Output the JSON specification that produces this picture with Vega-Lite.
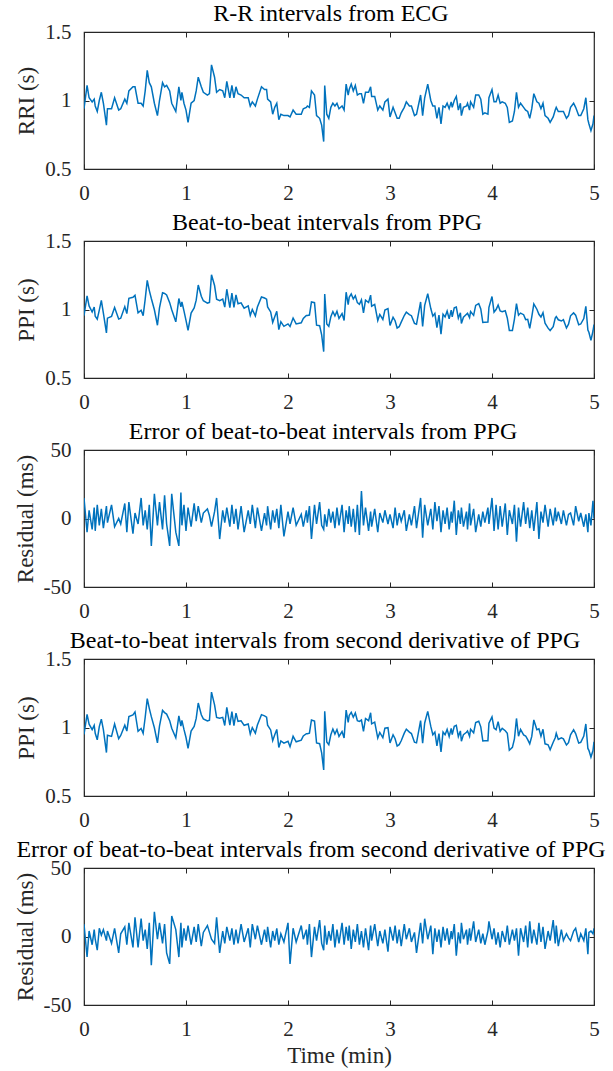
{
"$schema": "https://vega.github.io/schema/vega-lite/v6.json",
"padding": {"left": 13, "top": 1, "right": 5, "bottom": 5},
"data": {"name": "d"},
"datasets": {"d": [
{"t":0.00,"rri":0.94,"ppi":0.955,"err":15,"ppi2":0.949,"err2":9},
{"t":0.03,"rri":1.11,"ppi":1.100,"err":-10,"ppi2":1.095,"err2":-15},
{"t":0.05,"rri":1.02,"ppi":1.026,"err":6,"ppi2":1.024,"err2":4},
{"t":0.08,"rri":0.99,"ppi":0.982,"err":-8,"ppi2":0.984,"err2":-6},
{"t":0.10,"rri":1.01,"ppi":1.018,"err":8,"ppi2":1.015,"err2":5},
{"t":0.11,"rri":0.96,"ppi":0.951,"err":-9,"ppi2":0.958,"err2":-2},
{"t":0.13,"rri":0.92,"ppi":0.930,"err":10,"ppi2":0.910,"err2":-10},
{"t":0.15,"rri":1.00,"ppi":0.995,"err":-5,"ppi2":1.006,"err2":6},
{"t":0.17,"rri":1.06,"ppi":1.067,"err":7,"ppi2":1.061,"err2":1},
{"t":0.19,"rri":0.98,"ppi":0.973,"err":-7,"ppi2":0.985,"err2":5},
{"t":0.22,"rri":0.82,"ppi":0.829,"err":9,"ppi2":0.817,"err2":-3},
{"t":0.23,"rri":0.94,"ppi":0.937,"err":-3,"ppi2":0.944,"err2":4},
{"t":0.27,"rri":0.94,"ppi":0.950,"err":10,"ppi2":0.935,"err2":-5},
{"t":0.30,"rri":1.02,"ppi":1.014,"err":-6,"ppi2":1.026,"err2":6},
{"t":0.34,"rri":0.93,"ppi":0.930,"err":0,"ppi2":0.918,"err2":-12},
{"t":0.36,"rri":0.94,"ppi":0.936,"err":-4,"ppi2":0.942,"err2":2},
{"t":0.40,"rri":1.01,"ppi":1.021,"err":11,"ppi2":1.017,"err2":7},
{"t":0.42,"rri":0.98,"ppi":0.970,"err":-10,"ppi2":0.974,"err2":-6},
{"t":0.44,"rri":1.07,"ppi":1.082,"err":12,"ppi2":1.080,"err2":10},
{"t":0.48,"rri":1.10,"ppi":1.089,"err":-11,"ppi2":1.092,"err2":-8},
{"t":0.50,"rri":1.10,"ppi":1.104,"err":4,"ppi2":1.114,"err2":14},
{"t":0.53,"rri":0.98,"ppi":0.976,"err":-4,"ppi2":0.972,"err2":-8},
{"t":0.56,"rri":0.98,"ppi":0.995,"err":15,"ppi2":0.993,"err2":13},
{"t":0.58,"rri":0.96,"ppi":0.955,"err":-5,"ppi2":0.957,"err2":-3},
{"t":0.60,"rri":1.07,"ppi":1.076,"err":6,"ppi2":1.075,"err2":5},
{"t":0.62,"rri":1.22,"ppi":1.212,"err":-8,"ppi2":1.211,"err2":-9},
{"t":0.64,"rri":1.13,"ppi":1.140,"err":10,"ppi2":1.140,"err2":10},
{"t":0.66,"rri":1.10,"ppi":1.080,"err":-20,"ppi2":1.079,"err2":-21},
{"t":0.69,"rri":0.98,"ppi":0.998,"err":18,"ppi2":0.998,"err2":18},
{"t":0.72,"rri":0.89,"ppi":0.885,"err":-5,"ppi2":0.888,"err2":-2},
{"t":0.74,"rri":1.00,"ppi":1.012,"err":12,"ppi2":1.010,"err2":10},
{"t":0.77,"rri":1.13,"ppi":1.122,"err":-8,"ppi2":1.125,"err2":-5},
{"t":0.79,"rri":1.10,"ppi":1.117,"err":17,"ppi2":1.109,"err2":9},
{"t":0.81,"rri":1.11,"ppi":1.106,"err":-4,"ppi2":1.098,"err2":-12},
{"t":0.84,"rri":1.07,"ppi":1.050,"err":-20,"ppi2":1.050,"err2":-20},
{"t":0.86,"rri":0.98,"ppi":0.998,"err":18,"ppi2":0.995,"err2":15},
{"t":0.90,"rri":0.92,"ppi":0.910,"err":-10,"ppi2":0.925,"err2":5},
{"t":0.93,"rri":1.10,"ppi":1.080,"err":-20,"ppi2":1.085,"err2":-15},
{"t":0.95,"rri":1.00,"ppi":1.019,"err":19,"ppi2":1.010,"err2":10},
{"t":0.96,"rri":1.06,"ppi":1.055,"err":-5,"ppi2":1.052,"err2":-8},
{"t":0.98,"rri":0.98,"ppi":0.990,"err":10,"ppi2":0.986,"err2":6},
{"t":1.00,"rri":0.93,"ppi":0.921,"err":-9,"ppi2":0.927,"err2":-3},
{"t":1.02,"rri":0.84,"ppi":0.848,"err":8,"ppi2":0.848,"err2":8},
{"t":1.05,"rri":0.98,"ppi":0.974,"err":-6,"ppi2":0.974,"err2":-6},
{"t":1.08,"rri":1.00,"ppi":1.011,"err":11,"ppi2":1.007,"err2":7},
{"t":1.10,"rri":1.07,"ppi":1.068,"err":-2,"ppi2":1.066,"err2":-4},
{"t":1.12,"rri":1.17,"ppi":1.179,"err":9,"ppi2":1.179,"err2":9},
{"t":1.15,"rri":1.10,"ppi":1.097,"err":-3,"ppi2":1.093,"err2":-7},
{"t":1.17,"rri":1.06,"ppi":1.064,"err":4,"ppi2":1.063,"err2":3},
{"t":1.21,"rri":1.04,"ppi":1.047,"err":7,"ppi2":1.048,"err2":8},
{"t":1.23,"rri":1.05,"ppi":1.052,"err":2,"ppi2":1.053,"err2":3},
{"t":1.25,"rri":1.26,"ppi":1.254,"err":-6,"ppi2":1.258,"err2":-2},
{"t":1.28,"rri":1.17,"ppi":1.175,"err":5,"ppi2":1.165,"err2":-5},
{"t":1.30,"rri":1.06,"ppi":1.075,"err":15,"ppi2":1.074,"err2":14},
{"t":1.33,"rri":1.08,"ppi":1.065,"err":-15,"ppi2":1.068,"err2":-12},
{"t":1.36,"rri":1.07,"ppi":1.076,"err":6,"ppi2":1.074,"err2":4},
{"t":1.38,"rri":1.02,"ppi":1.017,"err":-3,"ppi2":1.015,"err2":-5},
{"t":1.40,"rri":1.14,"ppi":1.148,"err":8,"ppi2":1.147,"err2":7},
{"t":1.43,"rri":1.02,"ppi":1.014,"err":-6,"ppi2":1.017,"err2":-3},
{"t":1.45,"rri":1.11,"ppi":1.120,"err":10,"ppi2":1.116,"err2":6},
{"t":1.47,"rri":1.02,"ppi":1.016,"err":-4,"ppi2":1.014,"err2":-6},
{"t":1.49,"rri":1.10,"ppi":1.107,"err":7,"ppi2":1.105,"err2":5},
{"t":1.51,"rri":1.05,"ppi":1.042,"err":-8,"ppi2":1.045,"err2":-5},
{"t":1.54,"rri":1.04,"ppi":1.049,"err":9,"ppi2":1.049,"err2":9},
{"t":1.57,"rri":1.02,"ppi":1.010,"err":-10,"ppi2":1.016,"err2":-4},
{"t":1.61,"rri":1.02,"ppi":1.026,"err":6,"ppi2":1.026,"err2":6},
{"t":1.63,"rri":0.96,"ppi":0.956,"err":-4,"ppi2":0.952,"err2":-8},
{"t":1.65,"rri":0.99,"ppi":1.000,"err":10,"ppi2":0.999,"err2":9},
{"t":1.68,"rri":0.96,"ppi":0.953,"err":-7,"ppi2":0.958,"err2":-2},
{"t":1.70,"rri":1.01,"ppi":1.018,"err":8,"ppi2":1.018,"err2":8},
{"t":1.74,"rri":1.10,"ppi":1.091,"err":-9,"ppi2":1.094,"err2":-6},
{"t":1.77,"rri":1.08,"ppi":1.084,"err":4,"ppi2":1.085,"err2":5},
{"t":1.79,"rri":1.08,"ppi":1.075,"err":-5,"ppi2":1.076,"err2":-4},
{"t":1.80,"rri":1.01,"ppi":1.019,"err":9,"ppi2":1.017,"err2":7},
{"t":1.83,"rri":0.99,"ppi":0.982,"err":-8,"ppi2":0.982,"err2":-8},
{"t":1.85,"rri":0.90,"ppi":0.906,"err":6,"ppi2":0.904,"err2":4},
{"t":1.87,"rri":0.95,"ppi":0.947,"err":-3,"ppi2":0.947,"err2":-3},
{"t":1.89,"rri":0.98,"ppi":0.987,"err":7,"ppi2":0.986,"err2":6},
{"t":1.91,"rri":0.86,"ppi":0.853,"err":-7,"ppi2":0.854,"err2":-6},
{"t":1.93,"rri":0.90,"ppi":0.910,"err":10,"ppi2":0.902,"err2":2},
{"t":1.96,"rri":0.89,"ppi":0.877,"err":-13,"ppi2":0.886,"err2":-4},
{"t":2.00,"rri":0.89,"ppi":0.895,"err":5,"ppi2":0.900,"err2":10},
{"t":2.02,"rri":0.88,"ppi":0.876,"err":-4,"ppi2":0.860,"err2":-20},
{"t":2.05,"rri":0.93,"ppi":0.938,"err":8,"ppi2":0.936,"err2":6},
{"t":2.08,"rri":0.90,"ppi":0.895,"err":-5,"ppi2":0.896,"err2":-4},
{"t":2.13,"rri":0.90,"ppi":0.903,"err":3,"ppi2":0.908,"err2":8},
{"t":2.15,"rri":0.94,"ppi":0.934,"err":-6,"ppi2":0.938,"err2":-2},
{"t":2.18,"rri":0.95,"ppi":0.956,"err":6,"ppi2":0.955,"err2":5},
{"t":2.19,"rri":0.96,"ppi":0.957,"err":-3,"ppi2":0.954,"err2":-6},
{"t":2.21,"rri":0.95,"ppi":0.959,"err":9,"ppi2":0.959,"err2":9},
{"t":2.23,"rri":1.07,"ppi":1.055,"err":-15,"ppi2":1.055,"err2":-15},
{"t":2.26,"rri":1.04,"ppi":1.050,"err":10,"ppi2":1.047,"err2":7},
{"t":2.28,"rri":0.89,"ppi":0.886,"err":-4,"ppi2":0.887,"err2":-3},
{"t":2.31,"rri":0.87,"ppi":0.882,"err":12,"ppi2":0.882,"err2":12},
{"t":2.33,"rri":0.82,"ppi":0.815,"err":-5,"ppi2":0.815,"err2":-5},
{"t":2.35,"rri":0.70,"ppi":0.692,"err":-8,"ppi2":0.690,"err2":-10},
{"t":2.36,"rri":1.11,"ppi":1.113,"err":3,"ppi2":1.118,"err2":8},
{"t":2.38,"rri":0.90,"ppi":0.894,"err":-6,"ppi2":0.894,"err2":-6},
{"t":2.40,"rri":0.87,"ppi":0.877,"err":7,"ppi2":0.874,"err2":4},
{"t":2.42,"rri":0.95,"ppi":0.947,"err":-3,"ppi2":0.947,"err2":-3},
{"t":2.44,"rri":0.98,"ppi":0.985,"err":5,"ppi2":0.989,"err2":9},
{"t":2.46,"rri":0.96,"ppi":0.953,"err":-7,"ppi2":0.952,"err2":-8},
{"t":2.48,"rri":0.98,"ppi":0.988,"err":8,"ppi2":0.985,"err2":5},
{"t":2.50,"rri":0.94,"ppi":0.935,"err":-5,"ppi2":0.935,"err2":-5},
{"t":2.53,"rri":0.96,"ppi":0.970,"err":10,"ppi2":0.970,"err2":10},
{"t":2.55,"rri":0.93,"ppi":0.920,"err":-10,"ppi2":0.924,"err2":-6},
{"t":2.57,"rri":1.12,"ppi":1.126,"err":6,"ppi2":1.127,"err2":7},
{"t":2.59,"rri":1.04,"ppi":1.036,"err":-4,"ppi2":1.037,"err2":-3},
{"t":2.60,"rri":1.08,"ppi":1.089,"err":9,"ppi2":1.088,"err2":8},
{"t":2.62,"rri":1.12,"ppi":1.114,"err":-6,"ppi2":1.111,"err2":-9},
{"t":2.64,"rri":1.07,"ppi":1.077,"err":7,"ppi2":1.075,"err2":5},
{"t":2.66,"rri":1.11,"ppi":1.100,"err":-10,"ppi2":1.106,"err2":-4},
{"t":2.68,"rri":1.04,"ppi":1.050,"err":10,"ppi2":1.049,"err2":9},
{"t":2.70,"rri":1.05,"ppi":1.038,"err":-12,"ppi2":1.044,"err2":-6},
{"t":2.72,"rri":1.05,"ppi":1.070,"err":20,"ppi2":1.054,"err2":4},
{"t":2.74,"rri":0.98,"ppi":0.975,"err":-5,"ppi2":0.972,"err2":-8},
{"t":2.76,"rri":1.06,"ppi":1.068,"err":8,"ppi2":1.066,"err2":6},
{"t":2.79,"rri":1.06,"ppi":1.051,"err":-9,"ppi2":1.050,"err2":-10},
{"t":2.81,"rri":1.10,"ppi":1.105,"err":5,"ppi2":1.108,"err2":8},
{"t":2.82,"rri":1.03,"ppi":1.024,"err":-6,"ppi2":1.027,"err2":-3},
{"t":2.85,"rri":1.03,"ppi":1.037,"err":7,"ppi2":1.039,"err2":9},
{"t":2.88,"rri":0.93,"ppi":0.920,"err":-10,"ppi2":0.923,"err2":-7},
{"t":2.90,"rri":0.96,"ppi":0.964,"err":4,"ppi2":0.964,"err2":4},
{"t":2.93,"rri":0.93,"ppi":0.927,"err":-3,"ppi2":0.925,"err2":-5},
{"t":2.95,"rri":0.99,"ppi":0.996,"err":6,"ppi2":0.995,"err2":5},
{"t":2.98,"rri":1.01,"ppi":1.006,"err":-4,"ppi2":0.999,"err2":-11},
{"t":3.00,"rri":0.88,"ppi":0.883,"err":3,"ppi2":0.887,"err2":7},
{"t":3.03,"rri":0.95,"ppi":0.943,"err":-7,"ppi2":0.947,"err2":-3},
{"t":3.05,"rri":0.91,"ppi":0.918,"err":8,"ppi2":0.918,"err2":8},
{"t":3.07,"rri":0.87,"ppi":0.865,"err":-5,"ppi2":0.865,"err2":-5},
{"t":3.09,"rri":0.87,"ppi":0.874,"err":4,"ppi2":0.875,"err2":5},
{"t":3.11,"rri":0.91,"ppi":0.908,"err":-2,"ppi2":0.903,"err2":-7},
{"t":3.14,"rri":0.95,"ppi":0.956,"err":6,"ppi2":0.959,"err2":9},
{"t":3.16,"rri":0.99,"ppi":0.981,"err":-9,"ppi2":0.988,"err2":-2},
{"t":3.19,"rri":0.96,"ppi":0.963,"err":3,"ppi2":0.966,"err2":6},
{"t":3.21,"rri":0.96,"ppi":0.955,"err":-5,"ppi2":0.956,"err2":-4},
{"t":3.24,"rri":0.89,"ppi":0.899,"err":9,"ppi2":0.893,"err2":3},
{"t":3.26,"rri":0.90,"ppi":0.893,"err":-7,"ppi2":0.888,"err2":-12},
{"t":3.30,"rri":1.04,"ppi":1.055,"err":15,"ppi2":1.050,"err2":10},
{"t":3.32,"rri":0.89,"ppi":0.876,"err":-14,"ppi2":0.885,"err2":-5},
{"t":3.34,"rri":1.02,"ppi":1.030,"err":10,"ppi2":1.033,"err2":13},
{"t":3.37,"rri":1.12,"ppi":1.115,"err":-5,"ppi2":1.118,"err2":-2},
{"t":3.40,"rri":1.00,"ppi":1.007,"err":7,"ppi2":1.008,"err2":8},
{"t":3.42,"rri":0.96,"ppi":0.952,"err":-8,"ppi2":0.947,"err2":-13},
{"t":3.44,"rri":0.96,"ppi":0.972,"err":12,"ppi2":0.966,"err2":6},
{"t":3.46,"rri":0.87,"ppi":0.868,"err":-2,"ppi2":0.866,"err2":-4},
{"t":3.48,"rri":0.95,"ppi":0.959,"err":9,"ppi2":0.955,"err2":5},
{"t":3.50,"rri":0.83,"ppi":0.820,"err":-10,"ppi2":0.822,"err2":-8},
{"t":3.52,"rri":0.96,"ppi":0.966,"err":6,"ppi2":0.967,"err2":7},
{"t":3.54,"rri":0.95,"ppi":0.946,"err":-4,"ppi2":0.947,"err2":-3},
{"t":3.56,"rri":0.98,"ppi":0.988,"err":8,"ppi2":0.986,"err2":6},
{"t":3.58,"rri":0.94,"ppi":0.932,"err":-8,"ppi2":0.934,"err2":-6},
{"t":3.60,"rri":0.99,"ppi":0.995,"err":5,"ppi2":0.994,"err2":4},
{"t":3.61,"rri":0.95,"ppi":0.947,"err":-3,"ppi2":0.948,"err2":-2},
{"t":3.63,"rri":1.00,"ppi":1.013,"err":13,"ppi2":1.009,"err2":9},
{"t":3.65,"rri":1.03,"ppi":1.018,"err":-12,"ppi2":1.016,"err2":-14},
{"t":3.67,"rri":0.93,"ppi":0.936,"err":6,"ppi2":0.933,"err2":3},
{"t":3.69,"rri":0.98,"ppi":0.976,"err":-4,"ppi2":0.975,"err2":-5},
{"t":3.70,"rri":0.89,"ppi":0.898,"err":8,"ppi2":0.900,"err2":10},
{"t":3.72,"rri":0.95,"ppi":0.944,"err":-6,"ppi2":0.948,"err2":-2},
{"t":3.75,"rri":0.96,"ppi":0.965,"err":5,"ppi2":0.965,"err2":5},
{"t":3.76,"rri":0.98,"ppi":0.972,"err":-8,"ppi2":0.974,"err2":-6},
{"t":3.78,"rri":0.93,"ppi":0.941,"err":11,"ppi2":0.936,"err2":6},
{"t":3.79,"rri":0.99,"ppi":0.985,"err":-5,"ppi2":0.987,"err2":-3},
{"t":3.82,"rri":0.95,"ppi":0.957,"err":7,"ppi2":0.961,"err2":11},
{"t":3.84,"rri":1.04,"ppi":1.030,"err":-10,"ppi2":1.036,"err2":-4},
{"t":3.87,"rri":1.04,"ppi":1.043,"err":3,"ppi2":1.045,"err2":5},
{"t":3.89,"rri":1.01,"ppi":1.004,"err":-6,"ppi2":1.005,"err2":-5},
{"t":3.91,"rri":0.90,"ppi":0.905,"err":5,"ppi2":0.902,"err2":2},
{"t":3.93,"rri":0.91,"ppi":0.907,"err":-3,"ppi2":0.904,"err2":-6},
{"t":3.96,"rri":0.90,"ppi":0.908,"err":8,"ppi2":0.904,"err2":4},
{"t":3.97,"rri":1.02,"ppi":1.016,"err":-4,"ppi2":1.031,"err2":11},
{"t":4.00,"rri":1.08,"ppi":1.095,"err":15,"ppi2":1.078,"err2":-2},
{"t":4.02,"rri":0.99,"ppi":0.981,"err":-9,"ppi2":0.996,"err2":6},
{"t":4.04,"rri":0.99,"ppi":1.000,"err":10,"ppi2":0.984,"err2":-6},
{"t":4.06,"rri":1.04,"ppi":1.032,"err":-8,"ppi2":1.043,"err2":3},
{"t":4.08,"rri":0.98,"ppi":0.989,"err":9,"ppi2":0.972,"err2":-8},
{"t":4.10,"rri":0.99,"ppi":0.984,"err":-6,"ppi2":0.994,"err2":4},
{"t":4.13,"rri":0.98,"ppi":0.991,"err":11,"ppi2":0.976,"err2":-4},
{"t":4.15,"rri":0.95,"ppi":0.938,"err":-12,"ppi2":0.958,"err2":8},
{"t":4.17,"rri":0.84,"ppi":0.846,"err":6,"ppi2":0.834,"err2":-6},
{"t":4.20,"rri":0.85,"ppi":0.846,"err":-4,"ppi2":0.855,"err2":5},
{"t":4.22,"rri":0.92,"ppi":0.930,"err":10,"ppi2":0.917,"err2":-3},
{"t":4.24,"rri":1.06,"ppi":1.043,"err":-17,"ppi2":1.066,"err2":6},
{"t":4.26,"rri":0.95,"ppi":0.958,"err":8,"ppi2":0.936,"err2":-14},
{"t":4.28,"rri":0.98,"ppi":0.974,"err":-6,"ppi2":0.986,"err2":6},
{"t":4.31,"rri":0.95,"ppi":0.962,"err":12,"ppi2":0.946,"err2":-4},
{"t":4.33,"rri":0.93,"ppi":0.926,"err":-4,"ppi2":0.938,"err2":8},
{"t":4.35,"rri":0.92,"ppi":0.928,"err":8,"ppi2":0.912,"err2":-8},
{"t":4.37,"rri":0.87,"ppi":0.863,"err":-7,"ppi2":0.881,"err2":11},
{"t":4.39,"rri":0.94,"ppi":0.946,"err":6,"ppi2":0.935,"err2":-5},
{"t":4.41,"rri":1.05,"ppi":1.041,"err":-9,"ppi2":1.055,"err2":5},
{"t":4.44,"rri":0.99,"ppi":1.002,"err":12,"ppi2":0.984,"err2":-6},
{"t":4.46,"rri":0.98,"ppi":0.965,"err":-15,"ppi2":0.990,"err2":10},
{"t":4.48,"rri":0.94,"ppi":0.945,"err":5,"ppi2":0.936,"err2":-4},
{"t":4.50,"rri":0.98,"ppi":0.977,"err":-3,"ppi2":0.987,"err2":7},
{"t":4.52,"rri":0.89,"ppi":0.900,"err":10,"ppi2":0.881,"err2":-9},
{"t":4.55,"rri":0.87,"ppi":0.864,"err":-6,"ppi2":0.874,"err2":4},
{"t":4.57,"rri":0.84,"ppi":0.847,"err":7,"ppi2":0.837,"err2":-3},
{"t":4.60,"rri":0.88,"ppi":0.875,"err":-5,"ppi2":0.892,"err2":12},
{"t":4.62,"rri":0.93,"ppi":0.938,"err":8,"ppi2":0.925,"err2":-5},
{"t":4.63,"rri":0.95,"ppi":0.948,"err":-2,"ppi2":0.958,"err2":8},
{"t":4.65,"rri":0.92,"ppi":0.925,"err":5,"ppi2":0.913,"err2":-7},
{"t":4.68,"rri":0.92,"ppi":0.916,"err":-4,"ppi2":0.925,"err2":5},
{"t":4.70,"rri":0.92,"ppi":0.926,"err":6,"ppi2":0.917,"err2":-3},
{"t":4.73,"rri":0.87,"ppi":0.865,"err":-5,"ppi2":0.872,"err2":2},
{"t":4.75,"rri":0.89,"ppi":0.893,"err":3,"ppi2":0.889,"err2":-1},
{"t":4.77,"rri":0.95,"ppi":0.954,"err":4,"ppi2":0.947,"err2":-3},
{"t":4.80,"rri":0.98,"ppi":0.975,"err":-5,"ppi2":0.984,"err2":4},
{"t":4.82,"rri":0.95,"ppi":0.959,"err":9,"ppi2":0.956,"err2":6},
{"t":4.85,"rri":0.89,"ppi":0.888,"err":-2,"ppi2":0.886,"err2":-4},
{"t":4.87,"rri":0.89,"ppi":0.894,"err":4,"ppi2":0.892,"err2":2},
{"t":4.90,"rri":0.94,"ppi":0.934,"err":-6,"ppi2":0.937,"err2":-3},
{"t":4.92,"rri":1.02,"ppi":1.023,"err":3,"ppi2":1.026,"err2":6},
{"t":4.94,"rri":0.86,"ppi":0.850,"err":-10,"ppi2":0.847,"err2":-13},
{"t":4.95,"rri":0.83,"ppi":0.834,"err":4,"ppi2":0.833,"err2":3},
{"t":4.97,"rri":0.78,"ppi":0.775,"err":-5,"ppi2":0.784,"err2":4},
{"t":4.99,"rri":0.83,"ppi":0.843,"err":13,"ppi2":0.832,"err2":2},
{"t":5.00,"rri":0.89,"ppi":0.890,"err":0,"ppi2":0.896,"err2":6}
]},
"spacing": 72,
"bounds": "flush",
"vconcat": [
{"width": 510, "height": 137,
 "title": {"text": "R-R intervals from ECG", "dx": -8},
 "layer": [
  {"mark": {"type": "line", "color": "#0072BD", "strokeWidth": 1.5, "clip": true},
   "encoding": {
    "x": {"field": "t", "type": "quantitative", "scale": {"domain": [0, 5], "nice": false, "zero": false}, "axis": {"orient": "bottom", "values": [0,1,2,3,4,5], "title": null, "labelFlush": false, "labelExpr": "toString(datum.value)"}},
    "y": {"field": "rri", "type": "quantitative", "scale": {"domain": [0.5, 1.5], "nice": false, "zero": false}, "axis": {"orient": "left", "values": [0.5,1,1.5], "title": "RRI (s)", "labelExpr": "toString(datum.value)"}}}},
  {"mark": {"type": "line", "opacity": 0},
   "encoding": {
    "x": {"field": "t", "type": "quantitative", "axis": {"orient": "top", "values": [0,1,2,3,4,5], "labels": false, "title": null}},
    "y": {"field": "rri", "type": "quantitative", "axis": {"orient": "right", "values": [0.5,1,1.5], "labels": false, "title": null}}}}
 ],
 "resolve": {"axis": {"x": "independent", "y": "independent"}}
},
{"width": 510, "height": 137,
 "title": {"text": "Beat-to-beat intervals from PPG", "dx": -12},
 "layer": [
  {"mark": {"type": "line", "color": "#0072BD", "strokeWidth": 1.5, "clip": true},
   "encoding": {
    "x": {"field": "t", "type": "quantitative", "scale": {"domain": [0, 5], "nice": false, "zero": false}, "axis": {"orient": "bottom", "values": [0,1,2,3,4,5], "title": null, "labelFlush": false, "labelExpr": "toString(datum.value)"}},
    "y": {"field": "ppi", "type": "quantitative", "scale": {"domain": [0.5, 1.5], "nice": false, "zero": false}, "axis": {"orient": "left", "values": [0.5,1,1.5], "title": "PPI (s)", "labelExpr": "toString(datum.value)"}}}},
  {"mark": {"type": "line", "opacity": 0},
   "encoding": {
    "x": {"field": "t", "type": "quantitative", "axis": {"orient": "top", "values": [0,1,2,3,4,5], "labels": false, "title": null}},
    "y": {"field": "ppi", "type": "quantitative", "axis": {"orient": "right", "values": [0.5,1,1.5], "labels": false, "title": null}}}}
 ],
 "resolve": {"axis": {"x": "independent", "y": "independent"}}
},
{"width": 510, "height": 137,
 "title": {"text": "Error of beat-to-beat intervals from PPG", "dx": -16},
 "layer": [
  {"mark": {"type": "line", "color": "#0072BD", "strokeWidth": 1.5, "clip": true},
   "encoding": {
    "x": {"field": "t", "type": "quantitative", "scale": {"domain": [0, 5], "nice": false, "zero": false}, "axis": {"orient": "bottom", "values": [0,1,2,3,4,5], "title": null, "labelFlush": false, "labelExpr": "toString(datum.value)"}},
    "y": {"field": "err", "type": "quantitative", "scale": {"domain": [-50, 50], "nice": false, "zero": false}, "axis": {"orient": "left", "values": [-50,0,50], "title": "Residual (ms)", "labelExpr": "toString(datum.value)"}}}},
  {"mark": {"type": "line", "opacity": 0},
   "encoding": {
    "x": {"field": "t", "type": "quantitative", "axis": {"orient": "top", "values": [0,1,2,3,4,5], "labels": false, "title": null}},
    "y": {"field": "err", "type": "quantitative", "axis": {"orient": "right", "values": [-50,0,50], "labels": false, "title": null}}}}
 ],
 "resolve": {"axis": {"x": "independent", "y": "independent"}}
},
{"width": 510, "height": 137,
 "title": {"text": "Beat-to-beat intervals from second derivative of PPG", "dx": -14},
 "layer": [
  {"mark": {"type": "line", "color": "#0072BD", "strokeWidth": 1.5, "clip": true},
   "encoding": {
    "x": {"field": "t", "type": "quantitative", "scale": {"domain": [0, 5], "nice": false, "zero": false}, "axis": {"orient": "bottom", "values": [0,1,2,3,4,5], "title": null, "labelFlush": false, "labelExpr": "toString(datum.value)"}},
    "y": {"field": "ppi2", "type": "quantitative", "scale": {"domain": [0.5, 1.5], "nice": false, "zero": false}, "axis": {"orient": "left", "values": [0.5,1,1.5], "title": "PPI (s)", "labelExpr": "toString(datum.value)"}}}},
  {"mark": {"type": "line", "opacity": 0},
   "encoding": {
    "x": {"field": "t", "type": "quantitative", "axis": {"orient": "top", "values": [0,1,2,3,4,5], "labels": false, "title": null}},
    "y": {"field": "ppi2", "type": "quantitative", "axis": {"orient": "right", "values": [0.5,1,1.5], "labels": false, "title": null}}}}
 ],
 "resolve": {"axis": {"x": "independent", "y": "independent"}}
},
{"width": 510, "height": 137,
 "title": {"text": "Error of beat-to-beat intervals from second derivative of PPG", "dx": -28},
 "layer": [
  {"mark": {"type": "line", "color": "#0072BD", "strokeWidth": 1.5, "clip": true},
   "encoding": {
    "x": {"field": "t", "type": "quantitative", "scale": {"domain": [0, 5], "nice": false, "zero": false}, "axis": {"orient": "bottom", "values": [0,1,2,3,4,5], "title": "Time (min)", "titlePadding": 5, "labelFlush": false, "labelExpr": "toString(datum.value)"}},
    "y": {"field": "err2", "type": "quantitative", "scale": {"domain": [-50, 50], "nice": false, "zero": false}, "axis": {"orient": "left", "values": [-50,0,50], "title": "Residual (ms)", "labelExpr": "toString(datum.value)"}}}},
  {"mark": {"type": "line", "opacity": 0},
   "encoding": {
    "x": {"field": "t", "type": "quantitative", "axis": {"orient": "top", "values": [0,1,2,3,4,5], "labels": false, "title": null}},
    "y": {"field": "err2", "type": "quantitative", "axis": {"orient": "right", "values": [-50,0,50], "labels": false, "title": null}}}}
 ],
 "resolve": {"axis": {"x": "independent", "y": "independent"}}
}
],
"config": {
 "font": "Liberation Serif",
 "background": "#ffffff",
 "view": {"stroke": "#262626", "strokeWidth": 1.2},
 "axis": {"grid": false, "domain": false, "tickSize": -5, "tickColor": "#262626", "tickWidth": 1, "labelFont": "Liberation Serif", "labelFontSize": 21, "labelColor": "#262626", "labelPadding": 18, "titleFont": "Liberation Serif", "titleFontSize": 23, "titleFontWeight": "normal", "titleColor": "#262626", "titlePadding": 6},
 "title": {"font": "Liberation Serif", "fontSize": 24, "fontWeight": "normal", "color": "#000000", "offset": -5, "anchor": "middle"}
}
}
